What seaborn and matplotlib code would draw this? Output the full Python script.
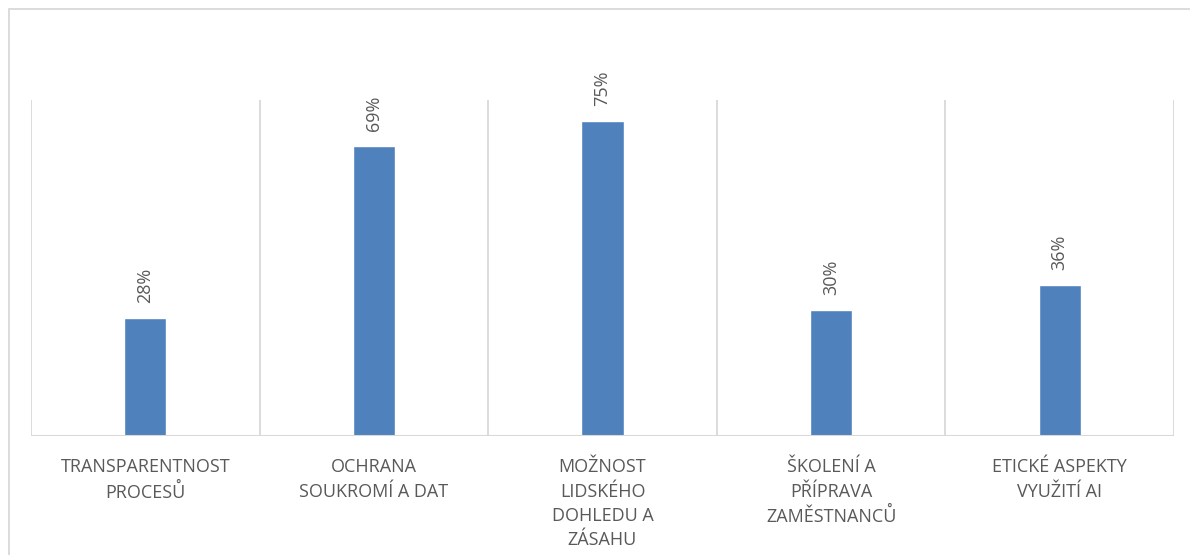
import pandas as pd
import seaborn as sns
import matplotlib.pyplot as plt
from matplotlib.patches import Rectangle

# data
categories = [
    "TRANSPARENTNOST\nPROCESŮ",
    "OCHRANA\nSOUKROMÍ A DAT",
    "MOŽNOST\nLIDSKÉHO\nDOHLEDU A\nZÁSAHU",
    "ŠKOLENÍ A\nPŘÍPRAVA\nZAMĚSTNANCŮ",
    "ETICKÉ ASPEKTY\nVYUŽITÍ AI",
]
values = [28, 69, 75, 30, 36]

df = pd.DataFrame({"kategorie": categories, "podil": values})

sns.set_theme(style="white")
plt.rcParams['font.family'] = ['Open Sans', 'DejaVu Sans']

text_color = "#595959"
grid_color = "#d9d9d9"
bar_color = "#4f81bd"

fig = plt.figure(figsize=(11.9, 5.55), dpi=100)
ax = fig.add_axes([31 / 1190, 1 - 436 / 555, (1174 - 31) / 1190, (436 - 100) / 555])

# outer chart frame (only top and left edges visible)
fig.patches.append(Rectangle((9 / 1190, -0.1), 1.2, 1 - 9 / 555 + 0.1,
                             transform=fig.transFigure, fill=False,
                             edgecolor=grid_color, linewidth=1.3))

sns.barplot(data=df, x="kategorie", y="podil", color=bar_color,
            width=0.184, saturation=1, ax=ax)

ax.set_xlim(-0.5, len(categories) - 0.5)
ax.set_ylim(0, 80)

# vertical category separators
seps = [i - 0.5 for i in range(len(categories) + 1)]
ax.vlines(seps, 0, 80, colors=grid_color, linewidth=1.3, zorder=0)
ax.axhline(0, color=grid_color, linewidth=1.5, zorder=1)

for spine in ax.spines.values():
    spine.set_visible(False)

ax.set_yticks([])
ax.set_xlabel("")
ax.set_ylabel("")
ax.tick_params(axis="x", length=0, pad=16, labelsize=13, labelcolor=text_color)
for lbl in ax.get_xticklabels():
    lbl.set_linespacing(1.45)
    lbl.set_multialignment("center")

for i, v in enumerate(values):
    ax.annotate(f"{v}%", (i, v), xytext=(0, 11), textcoords="offset points",
                rotation=90, ha="center", va="bottom", fontsize=13,
                color=text_color)

fig.savefig("out.png", dpi=100)
